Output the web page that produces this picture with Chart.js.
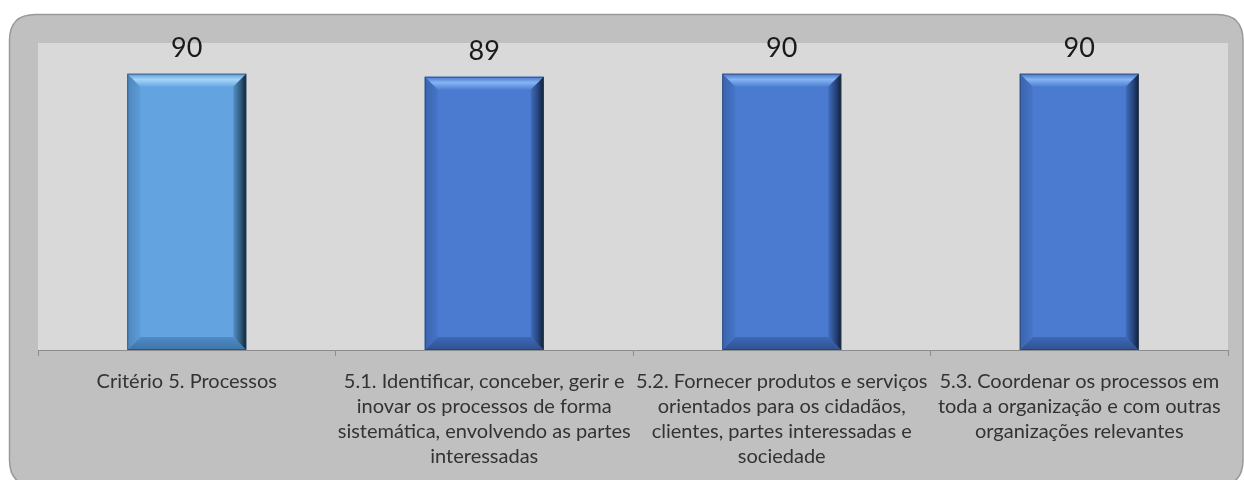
<!DOCTYPE html>
<html>
<head>
<meta charset="utf-8">
<script src="https://cdn.jsdelivr.net/npm/chart.js@4/dist/chart.umd.min.js"></script>
<style>
  html, body { margin: 0; padding: 0; background: #fff; }
  #wrap { width: 1244px; height: 480px; position: relative; }
</style>
</head>
<body>
<div id="wrap"><canvas id="cProc"></canvas></div>
<script>
// Critério 5 · pontuação por subcritério
const categorias = [
  ['Critério 5. Processos'],
  ['5.1. Identificar, conceber, gerir e', 'inovar os processos de forma', 'sistemática, envolvendo as partes', 'interessadas'],
  ['5.2. Fornecer produtos e serviços', 'orientados para os cidadãos,', 'clientes, partes interessadas e', 'sociedade'],
  ['5.3. Coordenar os processos em', 'toda a organização e com outras', 'organizações relevantes'],
];
const pontuacao = [90, 89, 90, 90];
const coresBarra = ['#62a3e0', '#4a7bd0', '#4a7bd0', '#4a7bd0'];

const FONTE = 'Lato, "Open Sans", sans-serif';

// fundo arredondado do gráfico + área de plotagem cinza clara
const fundo = {
  id: 'fundo',
  beforeDraw(chart) {
    const { ctx, chartArea: a } = chart;
    ctx.save();
    const x = 9.5, y = 14.5, w = 1243 - 9.5, h = 486 - 14.5, r = 26;
    ctx.beginPath();
    ctx.moveTo(x + r, y);
    ctx.lineTo(x + w - r, y);
    ctx.quadraticCurveTo(x + w, y, x + w, y + r);
    ctx.lineTo(x + w, y + h - r);
    ctx.quadraticCurveTo(x + w, y + h, x + w - r, y + h);
    ctx.lineTo(x + r, y + h);
    ctx.quadraticCurveTo(x, y + h, x, y + h - r);
    ctx.lineTo(x, y + r);
    ctx.quadraticCurveTo(x, y, x + r, y);
    ctx.closePath();
    ctx.fillStyle = '#c0c0c0';
    ctx.fill();
    ctx.lineWidth = 1.5;
    ctx.strokeStyle = '#9a9a9a';
    ctx.stroke();
    ctx.fillStyle = '#d9d9d9';
    ctx.fillRect(a.left, a.top, a.right - a.left, a.bottom - a.top);
    ctx.restore();
  }
};

// relevo (bisel) das barras + valor no topo
const bisel = {
  id: 'bisel',
  afterDatasetsDraw(chart) {
    const { ctx } = chart;
    const meta = chart.getDatasetMeta(0);
    meta.data.forEach((bar, i) => {
      const l = bar.x - bar.width / 2, r = bar.x + bar.width / 2;
      const t = bar.y, b = bar.base, e = 13;
      ctx.save();
      const poly = (pts, fill) => {
        ctx.beginPath();
        ctx.moveTo(pts[0][0], pts[0][1]);
        pts.slice(1).forEach(p => ctx.lineTo(p[0], p[1]));
        ctx.closePath();
        ctx.fillStyle = fill;
        ctx.fill();
      };
      const claro = i === 0;
      // topo
      let g = ctx.createLinearGradient(0, t, 0, t + e);
      g.addColorStop(0, claro ? '#5b9ad6' : '#4677cb');
      g.addColorStop(0.45, claro ? '#a6d5f8' : '#86b3f2');
      g.addColorStop(1, claro ? '#66a8e4' : '#4d7fd4');
      poly([[l, t], [r, t], [r - e, t + e], [l + e, t + e]], g);
      // base
      g = ctx.createLinearGradient(0, b - e, 0, b);
      g.addColorStop(0, claro ? '#4f8cc6' : '#3d68b4');
      g.addColorStop(1, claro ? '#3e73a8' : '#2e5292');
      poly([[l, b], [r, b], [r - e, b - e], [l + e, b - e]], g);
      // esquerda
      g = ctx.createLinearGradient(l, 0, l + e, 0);
      g.addColorStop(0, claro ? '#4d86bd' : '#3a64ad');
      g.addColorStop(1, claro ? '#5c9cd8' : '#4674c8');
      poly([[l, t], [l + e, t + e], [l + e, b - e], [l, b]], g);
      // direita
      g = ctx.createLinearGradient(r - e, 0, r, 0);
      g.addColorStop(0, claro ? '#5590c8' : '#416dbb');
      g.addColorStop(0.6, claro ? '#2e5778' : '#24427a');
      g.addColorStop(1, '#12202f');
      poly([[r, t], [r - e, t + e], [r - e, b - e], [r, b]], g);
      ctx.lineWidth = 1;
      ctx.strokeStyle = 'rgba(40,60,90,0.6)';
      ctx.strokeRect(l + 0.5, t + 0.5, r - l - 1, b - t - 1);
      // valor
      ctx.fillStyle = '#1a1a1a';
      ctx.font = '27px ' + FONTE;
      ctx.textAlign = 'center';
      ctx.textBaseline = 'alphabetic';
      ctx.fillText(String(pontuacao[i]), bar.x, t - 17);
      ctx.restore();
    });
  }
};

new Chart(document.getElementById('cProc'), {
  type: 'bar',
  data: {
    labels: categorias,
    datasets: [{
      data: pontuacao,
      backgroundColor: coresBarra,
      borderWidth: 0,
      barPercentage: 0.4,
      categoryPercentage: 1,
    }],
  },
  options: {
    responsive: true,
    maintainAspectRatio: false,
    animation: false,
    layout: { padding: { left: 38, right: 16, top: 43, bottom: 0 } },
    plugins: { legend: { display: false }, tooltip: { enabled: false } },
    scales: {
      x: {
        afterFit(s) { s.height = 130; },
        border: { color: '#8c8c8c', width: 1 },
        grid: { drawOnChartArea: false, drawTicks: true, tickLength: 6, offset: true, color: '#8c8c8c' },
        ticks: {
          autoSkip: false, maxRotation: 0, minRotation: 0, padding: 13,
          color: '#333333',
          font: { family: FONTE, size: 20, lineHeight: 1.25 },
        },
      },
      y: { display: false, min: 0, max: 100 },
    },
  },
  plugins: [fundo, bisel],
});
</script>
</body>
</html>
